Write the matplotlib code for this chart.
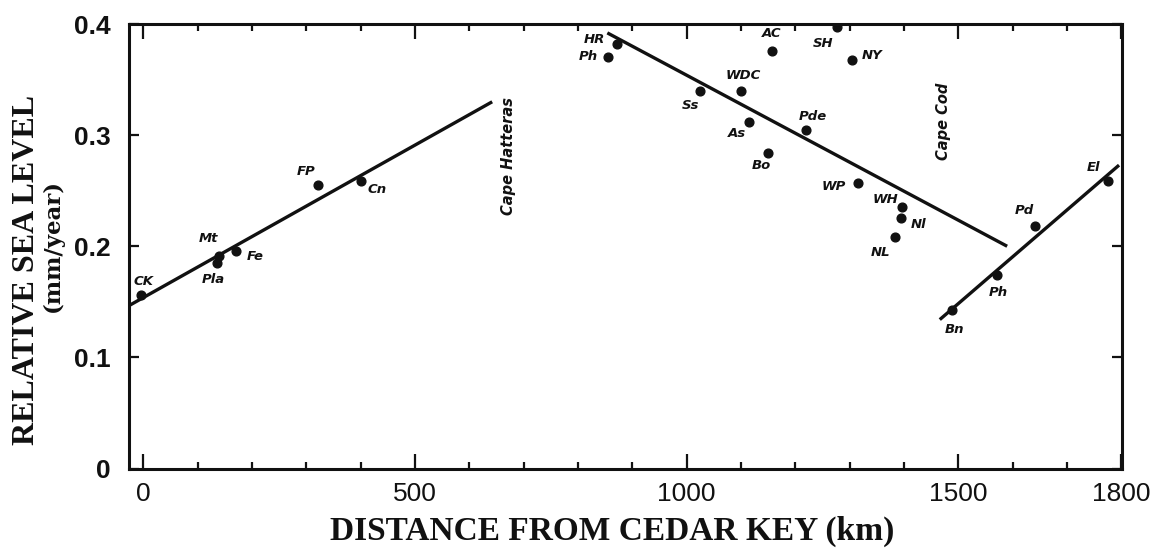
import matplotlib
matplotlib.use("Agg")
import matplotlib.pyplot as plt
from matplotlib.ticker import FixedLocator

# Tide-gauge stations: distance along the coast (km) and relative sea-level rate
south_names = ["CK", "Pla", "Mt", "Fe", "FP", "Cn"]
south_km = [-5, 135, 139, 170, 322, 400]
south_rate = [0.156, 0.185, 0.191, 0.196, 0.255, 0.259]

mid_names = ["HR", "Ph", "Ss", "WDC", "As", "Bo", "AC", "SH", "NY",
             "Pde", "WP", "WH", "Nl", "NL"]
mid_km = [871, 856, 1024, 1100, 1115, 1149, 1157, 1277, 1305,
          1220, 1315, 1397, 1395, 1383]
mid_rate = [0.382, 0.370, 0.340, 0.340, 0.312, 0.284, 0.376, 0.397, 0.368,
            0.305, 0.257, 0.235, 0.225, 0.208]

north_names = ["Bn", "Ph", "Pd", "El"]
north_km = [1489, 1571, 1641, 1776]
north_rate = [0.143, 0.174, 0.218, 0.259]

# Linear trends for each coastal segment (end points)
south_trend_km = [-25, 642]
south_trend_rate = [0.147, 0.330]
mid_trend_km = [854, 1590]
mid_trend_rate = [0.392, 0.200]
north_trend_km = [1466, 1796]
north_trend_rate = [0.134, 0.273]

# Geographic markers
capes = ["Cape Hatteras", "Cape Cod"]
cape_km = [672, 1473]
cape_rate = [0.281, 0.312]

x_tick_values = [0, 500, 1000, 1500, 1800]
x_tick_labels = ["0", "500", "1000", "1500", "1800"]
y_tick_values = [0, 0.1, 0.2, 0.3, 0.4]
y_tick_labels = ["0", "0.1", "0.2", "0.3", "0.4"]

# Label offsets (points) relative to each station dot
label_offsets = {
    ("s", "CK"): (1.7, 10), ("s", "Pla"): (-2.7, -12.2), ("s", "Mt"): (-7.2, 13),
    ("s", "Fe"): (13.9, -4.5), ("s", "FP"): (-8.9, 9.9), ("s", "Cn"): (11.7, -6.7),
    ("m", "HR"): (-16.3, 3.6), ("m", "Ph"): (-14.4, 0.7), ("m", "Ss"): (-6.7, -11),
    ("m", "WDC"): (1.9, 10.6), ("m", "As"): (-9.1, -8.4), ("m", "Bo"): (-4.5, -8.9),
    ("m", "AC"): (-0.5, 12.5), ("m", "SH"): (-10, -11.5), ("m", "NY"): (14.4, 2.9),
    ("m", "Pde"): (4.8, 9.6), ("m", "WP"): (-17.3, -2.9), ("m", "WH"): (-12, 6),
    ("m", "Nl"): (12.7, -4.6), ("m", "NL"): (-10, -10.8),
    ("n", "Bn"): (1.7, -14.2), ("n", "Ph"): (1.4, -12.2), ("n", "Pd"): (-7.9, 11.3),
    ("n", "El"): (-10.6, 9.4),
}

W, H = 1153, 551
fig = plt.figure(figsize=(W / 100, H / 100), dpi=100)
ax = fig.add_axes([129.3 / W, 1 - 468.5 / H, (1122.3 - 129.3) / W, (468.5 - 24) / H])

ink = "#111111"
label_font = dict(family=["DejaVu Sans"], fontsize=9.5,
                  fontweight="bold", fontstyle="italic", color=ink)

for tag, names, kms, rates in (("s", south_names, south_km, south_rate),
                               ("m", mid_names, mid_km, mid_rate),
                               ("n", north_names, north_km, north_rate)):
    ax.plot(kms, rates, "o", ms=6.3, color=ink, zorder=3)
    for name, k, r in zip(names, kms, rates):
        ax.annotate(name, (k, r), xytext=label_offsets[(tag, name)],
                    textcoords="offset points", ha="center", va="center",
                    **label_font)

for tk, tr in ((south_trend_km, south_trend_rate),
               (mid_trend_km, mid_trend_rate),
               (north_trend_km, north_trend_rate)):
    ax.plot(tk, tr, "-", lw=2.4, color=ink, solid_capstyle="butt", zorder=2)

cape_font = dict(label_font, fontsize=10.5)
for name, k, r in zip(capes, cape_km, cape_rate):
    ax.text(k, r, name, rotation=90, ha="center", va="center", **cape_font)

ax.set_xlim(-26, 1802)
ax.set_ylim(0, 0.4)

ax.xaxis.set_major_locator(FixedLocator(x_tick_values))
ax.set_xticklabels(x_tick_labels)
ax.xaxis.set_minor_locator(FixedLocator([v for v in range(100, 1800, 100) if v % 500]))
ax.yaxis.set_major_locator(FixedLocator(y_tick_values))
ax.set_yticklabels(y_tick_labels)

ax.tick_params(axis="x", which="major", direction="in", length=11, width=1.6,
               top=True, pad=9.5, labelsize=19, colors=ink)
ax.tick_params(axis="x", which="minor", direction="in", length=5, width=1.6,
               top=True, colors=ink)
ax.tick_params(axis="y", which="major", direction="in", length=7, width=1.6,
               right=True, pad=13.5, labelsize=19, colors=ink)
for lab in ax.get_xticklabels():
    lab.set_fontfamily(["Liberation Sans", "DejaVu Sans"])
for lab in ax.get_yticklabels():
    lab.set_fontfamily(["Liberation Sans", "DejaVu Sans"])
    lab.set_fontweight("bold")

for sp in ax.spines.values():
    sp.set_linewidth(2.2)
    sp.set_color(ink)

fig.text(26.5 / W, 1 - 270 / H, "RELATIVE SEA LEVEL", rotation=90, ha="center",
         va="center", fontsize=23, fontweight="bold",
         family=["Liberation Serif", "DejaVu Serif"], color=ink)
fig.text(53 / W, 1 - 246 / H, "(mm/year)", rotation=90, ha="center", va="center",
         fontsize=16.5, fontweight="bold", family=["DejaVu Serif"], color=ink)
fig.text(612 / W, 1 - 531 / H, "DISTANCE FROM CEDAR KEY (km)", ha="center",
         va="center", fontsize=24, fontweight="bold",
         family=["Liberation Serif", "DejaVu Serif"], color=ink)

fig.savefig("out.png", dpi=100, facecolor="white")
